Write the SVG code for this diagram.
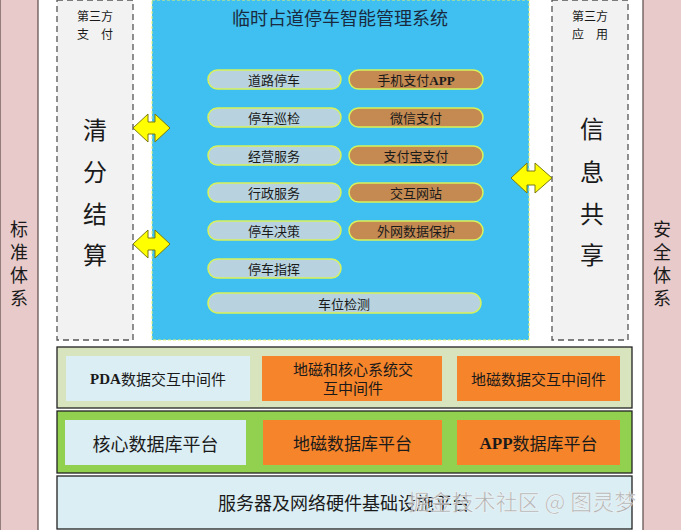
<svg xmlns="http://www.w3.org/2000/svg" width="681" height="530" viewBox="0 0 681 530">
<defs>
<style>
text{font-family:"Noto Sans CJK SC","Liberation Sans",sans-serif;fill:#1a1a1a;text-anchor:middle;dominant-baseline:central}
.pink{fill:#e8cacb;stroke:#5a4a4a;stroke-width:1.2}
.dash{fill:#f2f2f2;stroke:#555;stroke-width:1.3;stroke-dasharray:6,4}
.pl{fill:#b8d3df;stroke:#d8f25a;stroke-width:1.5}
.pr{fill:#c48a52;stroke:#d8f25a;stroke-width:1.5}
.pt{font-size:13px}
.arr{fill:#ffff00;stroke:#7a7a10;stroke-width:1}
.row{stroke:#222;stroke-width:1.3}
.lb{fill:#dbeef4}
.or{fill:#f5842a}
.big{font-size:24px}
.vt{font-size:18px;writing-mode:vertical-rl;letter-spacing:5px}
.sm{font-size:12px}
.lat{font-family:"Liberation Serif",serif;font-weight:bold}
</style>
</defs>
<g id="standard"><rect class="pink" x="0" y="-1" width="38" height="532"/>
<text class="vt" x="19" y="266">标准体系</text></g>
<g id="security"><rect class="pink" x="643" y="-1" width="39" height="532"/>
<text class="vt" x="662" y="266">安全体系</text></g>
<g id="pay"><rect class="dash" x="57" y="0" width="76" height="340"/>
<text class="sm" x="95" y="15">第三方</text><text class="sm" x="95" y="33">支　付</text>
<text class="big" x="95" y="128">清</text><text class="big" x="95" y="170">分</text><text class="big" x="95" y="212">结</text><text class="big" x="95" y="253">算</text></g>
<g id="app"><rect class="dash" x="552" y="0" width="76" height="340"/>
<text class="sm" x="590" y="15">第三方</text><text class="sm" x="590" y="33">应　用</text>
<text class="big" x="592" y="127">信</text><text class="big" x="592" y="170">息</text><text class="big" x="592" y="212">共</text><text class="big" x="592" y="253">享</text></g>
<g id="system"><rect x="152" y="0" width="377" height="340" fill="#3fc0f0" stroke="#e4f06a" stroke-width="1" stroke-dasharray="3,2"/>
<text x="340" y="17" style="font-size:18px;fill:#1a2a40">临时占道停车智能管理系统</text>
<rect class="pl" x="208" y="70" width="133" height="19" rx="9.5"/><text class="pt" x="274" y="79.5">道路停车</text>
<rect class="pl" x="208" y="108" width="133" height="19" rx="9.5"/><text class="pt" x="274" y="117.5">停车巡检</text>
<rect class="pl" x="208" y="146" width="133" height="19" rx="9.5"/><text class="pt" x="274" y="155.5">经营服务</text>
<rect class="pl" x="208" y="183" width="133" height="19" rx="9.5"/><text class="pt" x="274" y="192.5">行政服务</text>
<rect class="pl" x="208" y="221" width="133" height="19" rx="9.5"/><text class="pt" x="274" y="230.5">停车决策</text>
<rect class="pl" x="208" y="259" width="133" height="19" rx="9.5"/><text class="pt" x="274" y="268.5">停车指挥</text>
<rect class="pl" x="208" y="293" width="273" height="20" rx="10"/><text class="pt" x="344" y="303">车位检测</text>
<rect class="pr" x="349" y="70" width="134" height="19" rx="9.5"/><text class="pt" x="416" y="79.5">手机支付<tspan class="lat">APP</tspan></text>
<rect class="pr" x="349" y="108" width="134" height="19" rx="9.5"/><text class="pt" x="416" y="117.5">微信支付</text>
<rect class="pr" x="349" y="146" width="134" height="19" rx="9.5"/><text class="pt" x="416" y="155.5">支付宝支付</text>
<rect class="pr" x="349" y="183" width="134" height="19" rx="9.5"/><text class="pt" x="416" y="192.5">交互网站</text>
<rect class="pr" x="349" y="221" width="134" height="19" rx="9.5"/><text class="pt" x="416" y="230.5">外网数据保护</text></g>
<g id="connectors">
<polygon class="arr" points="133,128 148,114 148,122 155,122 155,114 170,128 155,142 155,134 148,134 148,142"/>
<polygon class="arr" points="133,244 148,230 148,238 155,238 155,230 170,244 155,258 155,250 148,250 148,258"/>
<polygon class="arr" points="511,178 527,163 527,171 535,171 535,163 552,178 535,193 535,185 527,185 527,193"/>
</g>
<g id="middleware"><rect class="row" x="57" y="347" width="575" height="61" fill="#d7e4bd"/>
<rect class="lb" x="66" y="356" width="184" height="45"/><text x="158" y="378.5" style="font-size:15px"><tspan class="lat">PDA</tspan>数据交互中间件</text>
<rect class="or" x="262" y="356" width="180" height="45"/><text x="353" y="368.5" style="font-size:15px">地磁和核心系统交</text><text x="353" y="387.5" style="font-size:15px">互中间件</text>
<rect class="or" x="457" y="356" width="163" height="45"/><text x="538.5" y="378.5" style="font-size:15px">地磁数据交互中间件</text></g>
<g id="database"><rect class="row" x="57" y="411" width="575" height="62" fill="#92d050"/>
<rect class="lb" x="65" y="420" width="181" height="45"/><text x="155.5" y="442.5" style="font-size:18px">核心数据库平台</text>
<rect class="or" x="263" y="420" width="179" height="45"/><text x="352.5" y="442.5" style="font-size:17px">地磁数据库平台</text>
<rect class="or" x="457" y="420" width="163" height="45"/><text x="538.5" y="442.5" style="font-size:17px"><tspan class="lat">APP</tspan>数据库平台</text></g>
<g id="infra"><rect class="row" x="57" y="476" width="575" height="53" fill="#dbeef4"/>
<text x="344" y="502" style="font-size:18px">服务器及网络硬件基础设施平台</text></g>
<text x="522" y="500" style="font-size:22px;fill:#a8a8a8;fill-opacity:0.85;stroke:#ffffff;stroke-width:0.6;stroke-opacity:0.7">掘金技术社区 @ 图灵梦</text>
</svg>
